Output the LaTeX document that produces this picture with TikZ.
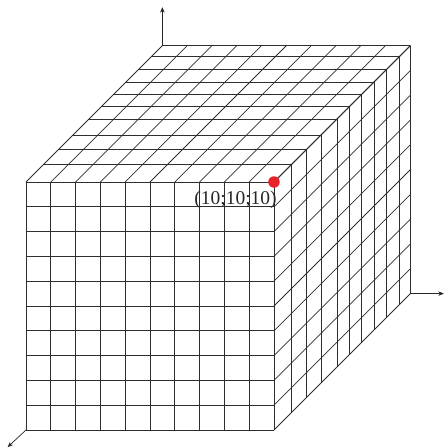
\documentclass[tikz,border=0pt]{standalone}
\usepackage{fontspec}
\setmainfont{Liberation Serif}
\usetikzlibrary{arrows.meta}
\definecolor{dotred}{HTML}{E8212B}
\tikzset{
  gridline/.style={line width=0.75pt, black!82},
  axis/.style={line width=0.7pt, black!85, -{Stealth[length=5.5pt,width=4.5pt]}},
  reddot/.style={circle, fill=dotred, inner sep=0pt, minimum size=11.5pt},
  coordlabel/.style={inner sep=0pt, font=\fontsize{19.5}{22}\selectfont, text=black!85}
}
\begin{document}
\begin{tikzpicture}[x=24.8pt, y=24.8pt]
  \useasboundingbox (-1.048,-0.726) rectangle (16.935,17.339);

  % --- front face ---
  \foreach \i in {0,...,10} {
    \draw[gridline] (\i,0) -- (\i,10);
    \draw[gridline] (0,\i) -- (10,\i);
  }

  % --- top face ---
  \foreach \i in {0,...,10}
    \draw[gridline] (\i,10) -- ++(5.5,5.5);
  \foreach \d in {0.70,1.31,1.90,2.54,3.03,3.53,4.03,4.54,5.05,5.5}
    \draw[gridline] (\d,10+\d) -- ++(10,0);

  % --- side face ---
  \foreach \i in {0,...,10}
    \draw[gridline] (10,\i) -- ++(5.5,5.5);
  \foreach \d in {0.70,1.31,1.90,2.54,3.03,3.53,4.03,4.54,5.05,5.5}
    \draw[gridline] (10+\d,\d) -- ++(0,10);

  % --- axes ---
  \coordinate (orig) at (0,0);
  \coordinate (xend) at (-0.74,-0.69);
  \coordinate (ybase) at (15.5,5.5);
  \coordinate (yend) at (16.85,5.5);
  \coordinate (zbase) at (5.5,15.5);
  \coordinate (zend) at (5.5,17.05);
  \draw[axis] (orig) -- (xend);
  \draw[axis] (ybase) -- (yend);
  \draw[axis] (zbase) -- (zend);

  % --- point ---
  \node[reddot] (pt) at (10,10) {};
  \node[coordlabel] (ptlabel) at (8.45,9.27) {(10;10;10)};

\end{tikzpicture}
\end{document}
